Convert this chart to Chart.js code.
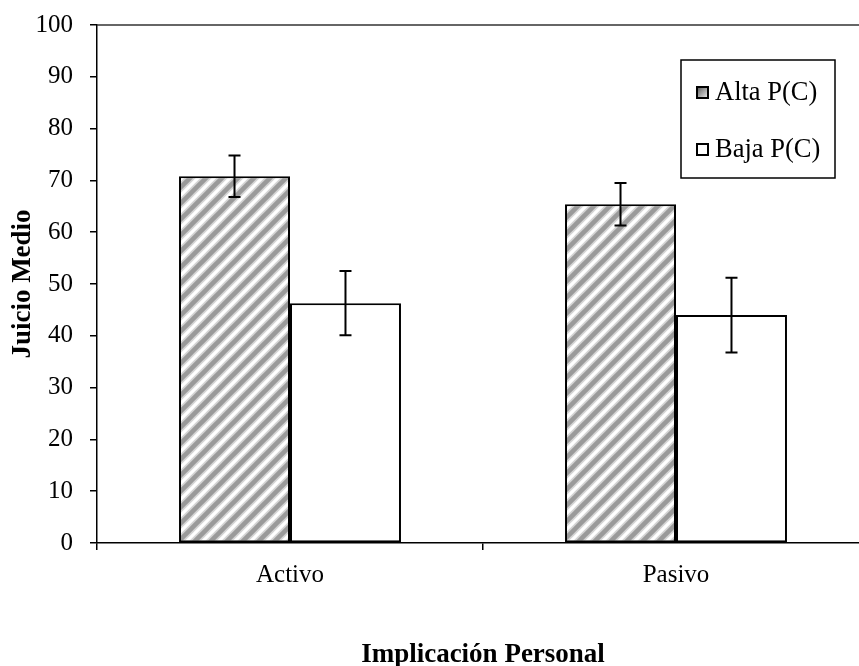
<!DOCTYPE html>
<html>
<head>
<meta charset="utf-8">
<script src="https://cdn.jsdelivr.net/npm/chart.js@4.4.1/dist/chart.umd.min.js"></script>
<style>
  html, body { margin: 0; padding: 0; background: #fff; overflow: hidden; }
  #wrap { position: relative; width: 870px; height: 666px; }
</style>
</head>
<body>
<div id="wrap"><canvas id="grafico"></canvas></div>
<script>
// datos
var categorias = ['Activo', 'Pasivo'];
var series = ['Alta P(C)', 'Baja P(C)'];
var alta = [70.8, 65.4];
var baja = [46.3, 44.0];
var altaError = [4.0, 4.1];
var bajaError = [6.2, 7.2];
var yTicks = [0, 10, 20, 30, 40, 50, 60, 70, 80, 90, 100];

var fuente = "'Liberation Serif', 'Times New Roman', serif";

// textura de rayas diagonales
function rayas() {
  var c = document.createElement('canvas');
  c.width = 16; c.height = 16;
  var g = c.getContext('2d');
  g.fillStyle = '#fff';
  g.fillRect(0, 0, 16, 16);
  var segs = [[-4, 4, 4, -4], [0, 16, 16, 0], [12, 20, 20, 12]];
  [['#d4d4d4', 8], ['#9a9a9a', 4.5]].forEach(function(s) {
    g.strokeStyle = s[0];
    g.lineWidth = s[1];
    segs.forEach(function(p) {
      g.beginPath(); g.moveTo(p[0], p[1]); g.lineTo(p[2], p[3]); g.stroke();
    });
  });
  return g.createPattern(c, 'repeat');
}
var patron = rayas();

var barrasError = {
  id: 'barrasError',
  afterDatasetsDraw: function(chart) {
    var ctx = chart.ctx;
    var y = chart.scales.y;
    var errores = [altaError, bajaError];
    ctx.save();
    ctx.strokeStyle = '#000';
    ctx.lineWidth = 2;
    chart.data.datasets.forEach(function(ds, i) {
      chart.getDatasetMeta(i).data.forEach(function(bar, j) {
        var v = ds.data[j], e = errores[i][j];
        var top = y.getPixelForValue(v + e), bot = y.getPixelForValue(v - e);
        ctx.beginPath();
        ctx.moveTo(bar.x, top); ctx.lineTo(bar.x, bot);
        ctx.moveTo(bar.x - 6, top); ctx.lineTo(bar.x + 6, top);
        ctx.moveTo(bar.x - 6, bot); ctx.lineTo(bar.x + 6, bot);
        ctx.stroke();
      });
    });
    ctx.restore();
  },
  afterDraw: function(chart) {
    var ctx = chart.ctx, a = chart.chartArea;
    ctx.save();
    // borde superior del area
    ctx.strokeStyle = '#333';
    ctx.lineWidth = 1.5;
    ctx.beginPath();
    ctx.moveTo(a.left, a.top); ctx.lineTo(a.right, a.top);
    ctx.stroke();
    // leyenda
    var lx = 681, ly = 60, lw = 154, lh = 118;
    ctx.fillStyle = '#fff';
    ctx.fillRect(lx, ly, lw, lh);
    ctx.strokeStyle = '#000';
    ctx.lineWidth = 1.5;
    ctx.strokeRect(lx, ly, lw, lh);
    ctx.font = '26.5px ' + fuente;
    ctx.textBaseline = 'middle';
    var fy = [92, 149];
    series.forEach(function(s, i) {
      var g = ctx.createLinearGradient(lx + 16, fy[i] - 5, lx + 27, fy[i] + 6);
      if (i === 0) { g.addColorStop(0, '#555'); g.addColorStop(1, '#eee'); }
      else { g.addColorStop(0, '#fff'); g.addColorStop(1, '#fff'); }
      ctx.fillStyle = g;
      ctx.fillRect(lx + 16, fy[i] - 5, 11, 11);
      ctx.lineWidth = 2;
      ctx.strokeRect(lx + 16, fy[i] - 5, 11, 11);
      ctx.fillStyle = '#000';
      ctx.fillText(s, lx + 34, fy[i] + 1);
    });
    ctx.restore();
  }
};

new Chart(document.getElementById('grafico'), {
  type: 'bar',
  data: {
    labels: categorias,
    datasets: [{
      label: series[0],
      data: alta,
      backgroundColor: patron,
      borderColor: '#000',
      borderWidth: 2,
      borderSkipped: false
    }, {
      label: series[1],
      data: baja,
      backgroundColor: '#fff',
      borderColor: '#000',
      borderWidth: 2,
      borderSkipped: false
    }]
  },
  options: {
    responsive: true,
    maintainAspectRatio: false,
    animation: false,
    datasets: { bar: { categoryPercentage: 0.575, barPercentage: 1 } },
    layout: { padding: { top: 25, right: 1, left: 0, bottom: 0 } },
    plugins: { legend: { display: false }, tooltip: { enabled: false } },
    scales: {
      x: {
        afterFit: function(s) { s.height = 123; },
        grid: { display: true, drawOnChartArea: false, offset: true, tickLength: 7, color: '#000', lineWidth: 1.5 },
        border: { display: true, color: '#000', width: 1.5 },
        ticks: { color: '#000', padding: 10, font: { family: fuente, size: 25 } },
        title: {
          display: true, text: 'Implicación Personal', color: '#000',
          padding: { top: 0, bottom: 0 },
          font: { family: fuente, size: 27, weight: 'bold', lineHeight: 0.8 }
        }
      },
      y: {
        min: 0, max: 100,
        afterFit: function(s) { s.width = 97; s.paddingTop = 10; s.paddingBottom = 10; },
        afterBuildTicks: function(s) { s.ticks = yTicks.map(function(v) { return { value: v }; }); },
        grid: { display: true, drawOnChartArea: false, tickLength: 7, color: '#000', lineWidth: 1.5 },
        border: { display: true, color: '#000', width: 1.5 },
        ticks: { color: '#000', padding: 17, font: { family: fuente, size: 25 } },
        title: {
          display: true, text: 'Juicio Medio', color: '#000',
          padding: { top: 7, bottom: 0 },
          font: { family: fuente, size: 27, weight: 'bold', lineHeight: 1.2 }
        }
      }
    }
  },
  plugins: [barrasError]
});
</script>
</body>
</html>
